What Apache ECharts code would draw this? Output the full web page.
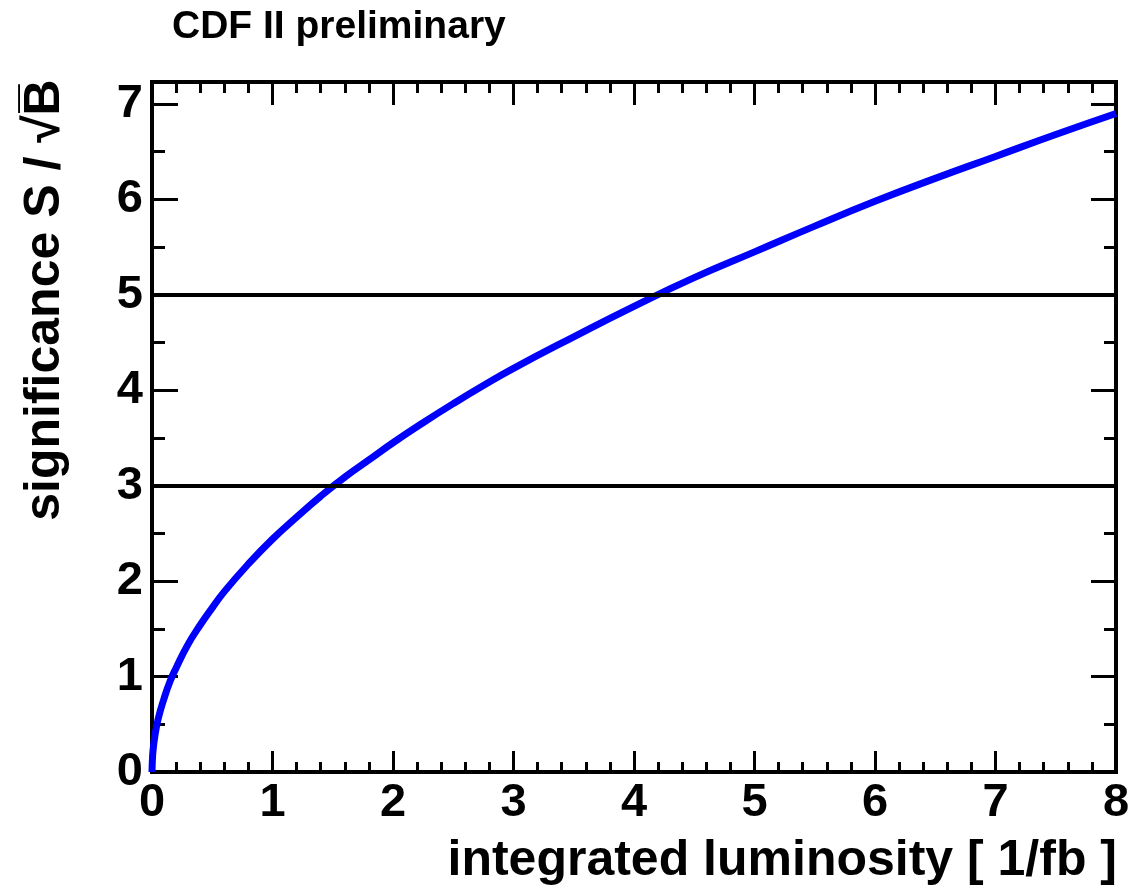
<!DOCTYPE html>
<html>
<head>
<meta charset="utf-8">
<script src="https://cdn.jsdelivr.net/npm/echarts@6/dist/echarts.min.js"></script>
<style>
  html, body { margin: 0; padding: 0; background: #fff; }
  #chart { width: 1133px; height: 892px; }
</style>
</head>
<body>
<div id="chart"></div>
<script>
// Expected significance S/sqrt(B) versus integrated luminosity
const luminosity   = [0, 0.005, 0.01, 0.02, 0.05, 0.1, 0.15, 0.2, 0.3, 0.4, 0.5, 0.6, 0.8, 1.0, 1.2, 1.4, 1.6, 1.8, 2.0, 2.25, 2.5, 2.75, 3.0, 3.5, 4.0, 4.5, 5.0, 5.5, 6.0, 6.5, 7.0, 7.5, 8.0];
const significance = [0, 0.17, 0.24, 0.345, 0.55, 0.77, 0.95, 1.09, 1.34, 1.54, 1.72, 1.89, 2.18, 2.44, 2.67, 2.89, 3.09, 3.27, 3.45, 3.66, 3.86, 4.05, 4.23, 4.56, 4.88, 5.18, 5.45, 5.72, 5.98, 6.22, 6.45, 6.68, 6.90];

// 3 sigma (evidence) and 5 sigma (observation) reference levels
const thresholdLevels = [3, 5];

// Axis ranges and tick values
const xRange = [0, 8];
const yRange = [0, 7.23];
const xTickLabels = ['0', '1', '2', '3', '4', '5', '6', '7', '8'];
const yMajorTicks = [0, 1, 2, 3, 4, 5, 6, 7];
const yMinorTicks = [0.5, 1.5, 2.5, 3.5, 4.5, 5.5, 6.5];

const FONT = '"Liberation Sans", Arial, Helvetica, sans-serif';
const BLACK = '#000';

const chart = echarts.init(document.getElementById('chart'), null, { renderer: 'canvas' });

function xAxisFrame(position, showLabels, majorLen, minorLen) {
  return {
    type: 'value',
    position: position,
    min: xRange[0],
    max: xRange[1],
    interval: 1,
    axisLine: { show: true, onZero: false, lineStyle: { color: BLACK, width: 4, cap: 'square' } },
    axisTick: { show: true, inside: true, length: majorLen, lineStyle: { color: BLACK, width: 3 } },
    minorTick: { show: true, splitNumber: 5, length: minorLen, lineStyle: { color: BLACK, width: 3 } },
    splitLine: { show: false },
    minorSplitLine: { show: false },
    axisLabel: {
      show: showLabels,
      margin: 8,
      color: BLACK,
      fontSize: 47,
      fontWeight: 'bold',
      fontFamily: FONT,
      formatter: v => xTickLabels[Math.round(v)]
    }
  };
}

function yAxisFrame(position, showLine, showLabels, ticks, tickLen) {
  return {
    type: 'value',
    position: position,
    min: yRange[0],
    max: yRange[1],
    interval: 1,
    axisLine: { show: showLine, onZero: false, lineStyle: { color: BLACK, width: 4, cap: 'square' } },
    axisTick: { show: true, inside: true, length: tickLen, customValues: ticks, lineStyle: { color: BLACK, width: 3 } },
    minorTick: { show: false },
    splitLine: { show: false },
    axisLabel: {
      show: showLabels,
      customValues: yMajorTicks,
      margin: 9,
      color: BLACK,
      fontSize: 47,
      fontWeight: 'bold',
      fontFamily: FONT
    }
  };
}

chart.setOption({
  animation: false,
  backgroundColor: '#fff',
  title: {
    text: 'CDF II preliminary',
    left: 167,
    top: 3,
    textStyle: { color: BLACK, fontSize: 39, fontWeight: 'bold', fontFamily: FONT }
  },
  grid: { left: 152, right: 17, top: 82, bottom: 120, containLabel: false },
  xAxis: [
    xAxisFrame('bottom', true, 21, 10),
    xAxisFrame('top', false, 23, 11)
  ],
  yAxis: [
    yAxisFrame('left', true, true, yMajorTicks, 26),
    yAxisFrame('left', false, false, yMinorTicks, 13),
    yAxisFrame('right', true, false, yMajorTicks, 25),
    yAxisFrame('right', false, false, yMinorTicks, 12)
  ],
  graphic: [
    {
      type: 'text',
      x: 45,
      y: 300,
      rotation: Math.PI / 2,
      style: {
        text: 'significance S / \u221AB\u0305',
        fill: BLACK,
        fontSize: 50,
        fontWeight: 'bold',
        fontFamily: FONT,
        align: 'center',
        verticalAlign: 'middle'
      }
    },
    {
      type: 'text',
      x: 1117,
      y: 861,
      style: {
        text: 'integrated luminosity [ 1/fb ]',
        fill: BLACK,
        fontSize: 50,
        fontWeight: 'bold',
        fontFamily: FONT,
        align: 'right',
        verticalAlign: 'middle'
      }
    }
  ],
  series: [
    {
      type: 'line',
      xAxisIndex: 0,
      yAxisIndex: 0,
      data: luminosity.map((x, i) => [x, significance[i]]),
      showSymbol: false,
      smooth: true,
      clip: true,
      lineStyle: { color: '#0000ff', width: 7 },
      markLine: {
        silent: true,
        symbol: ['none', 'none'],
        label: { show: false },
        lineStyle: { color: BLACK, width: 4, type: 'solid' },
        data: thresholdLevels.map(v => ({ yAxis: v }))
      }
    }
  ]
});
</script>
</body>
</html>
